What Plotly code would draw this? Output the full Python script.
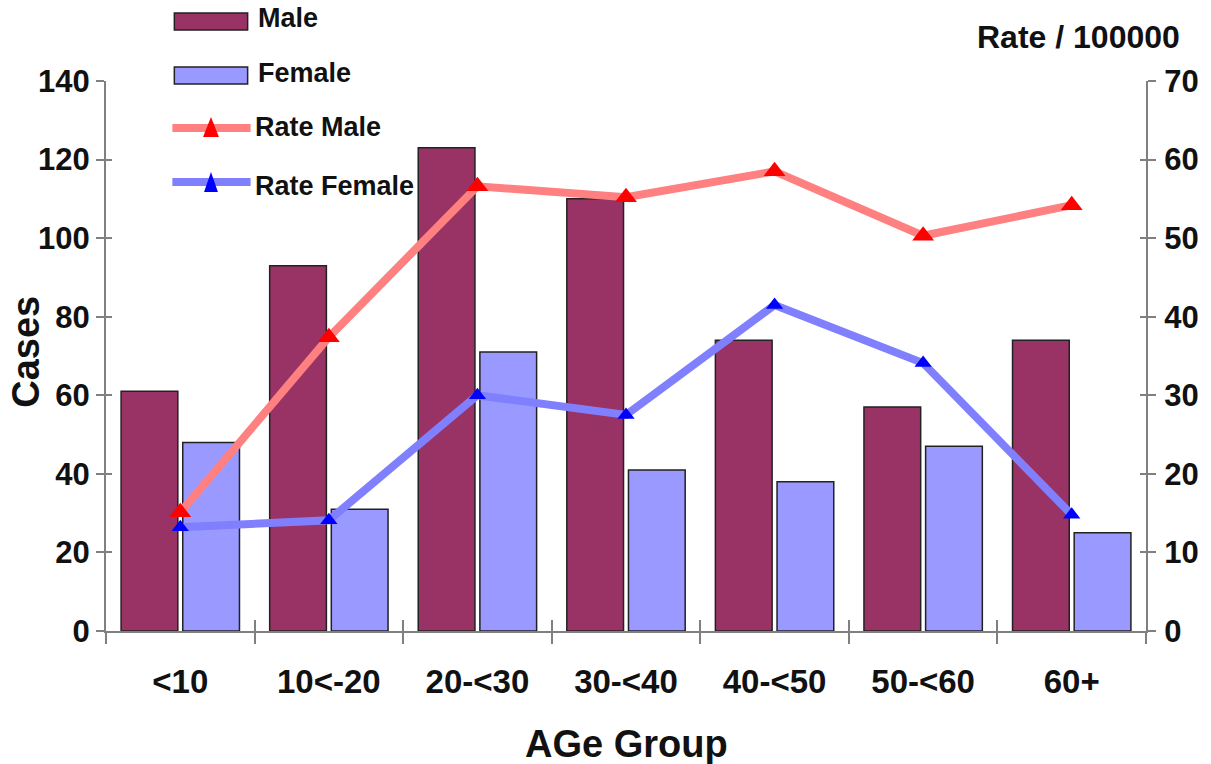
import plotly.graph_objects as go

# Age groups and counts
age_groups = ["<10", "10<-20", "20-<30", "30-<40", "40-<50", "50-<60", "60+"]
male_cases = [61, 93, 123, 110, 74, 57, 74]
female_cases = [48, 31, 71, 41, 38, 47, 25]

# Incidence per 100000
rate_male = [15.1, 37.4, 56.6, 55.2, 58.5, 50.3, 54.2]
rate_female = [13.2, 14.1, 30.0, 27.5, 41.5, 34.1, 14.8]

left_ticks = [0, 20, 40, 60, 80, 100, 120, 140]
right_ticks = [0, 10, 20, 30, 40, 50, 60, 70]

MALE_FILL = "#993366"
FEMALE_FILL = "#9999FF"
RM_LINE, RM_MARK = "#FF8080", "#FF0000"
RF_LINE, RF_MARK = "#8080FF", "#0000FF"
AXIS_GREY = "#808080"
TXT = "#111111"
FONT = "Liberation Sans, Arial, sans-serif"

W, H = 1211, 764
L, R, T, B = 106, 1156, 81, 631


def px(x):
    return (x - L) / (R - L)


def py(y):
    return (B - y) / (B - T)


fig = go.Figure()

fig.add_trace(go.Bar(x=age_groups, y=male_cases, name="Male",
                     marker=dict(color=MALE_FILL, line=dict(color="#222222", width=1.5)),
                     showlegend=False))
fig.add_trace(go.Bar(x=age_groups, y=female_cases, name="Female",
                     marker=dict(color=FEMALE_FILL, line=dict(color="#222222", width=1.5)),
                     showlegend=False))

fig.add_trace(go.Scatter(x=age_groups, y=rate_male, name="Rate Male", yaxis="y2",
                         mode="lines+markers",
                         line=dict(color=RM_LINE, width=8),
                         marker=dict(symbol="triangle-up", size=19, color=RM_MARK,
                                     line=dict(width=0)),
                         showlegend=False))
fig.add_trace(go.Scatter(x=age_groups, y=rate_female, name="Rate Female", yaxis="y2",
                         mode="lines+markers",
                         line=dict(color=RF_LINE, width=8),
                         marker=dict(symbol="triangle-up", size=15, color=RF_MARK,
                                     line=dict(width=0)),
                         showlegend=False))

# helper traces so the inner half of the crossing ticks gets drawn
fig.add_trace(go.Scatter(x=age_groups, y=male_cases, xaxis="x2", yaxis="y3", mode="markers",
                         marker=dict(opacity=0), hoverinfo="skip", showlegend=False))
fig.add_trace(go.Scatter(x=age_groups, y=rate_male, xaxis="x2", yaxis="y4", mode="markers",
                         marker=dict(opacity=0), hoverinfo="skip", showlegend=False))

tick_font = dict(family=FONT, size=31, color=TXT, weight="bold")
cat_font = dict(family=FONT, size=33, color=TXT, weight="bold")

fig.update_layout(
    width=W, height=H,
    margin=dict(l=L, r=W - R, t=T, b=H - B, pad=0),
    paper_bgcolor="white", plot_bgcolor="white",
    barmode="group", bargap=0.17, bargroupgap=0.08,
    showlegend=False,
    xaxis=dict(type="category", categoryorder="array", categoryarray=age_groups,
               range=[-0.5, 6.5], tickson="boundaries", ticks="outside", ticklen=11,
               tickwidth=1.5, tickcolor=AXIS_GREY, showline=True, linecolor=AXIS_GREY,
               linewidth=2, showgrid=False, zeroline=False, tickfont=cat_font,
               ticklabelstandoff=20),
    xaxis2=dict(type="category", categoryorder="array", categoryarray=age_groups,
                overlaying="x", anchor="y3", range=[-0.5, 6.5], tickson="boundaries",
                ticks="inside", ticklen=11, tickwidth=1.5, tickcolor=AXIS_GREY,
                showticklabels=False, showline=False, showgrid=False, zeroline=False),
    yaxis=dict(range=[0, 140], tickvals=left_ticks, ticks="outside", ticklen=8,
               tickwidth=1.5, tickcolor=AXIS_GREY, showline=True, linecolor=AXIS_GREY,
               linewidth=2, showgrid=False, zeroline=False, tickfont=tick_font,
               ticklabelstandoff=0),
    yaxis2=dict(range=[0, 70], tickvals=right_ticks, overlaying="y", side="right",
                ticks="outside", ticklen=8, tickwidth=1.5, tickcolor=AXIS_GREY,
                showline=True, linecolor=AXIS_GREY, linewidth=2, showgrid=False,
                zeroline=False, tickfont=tick_font, ticklabelstandoff=2),
    yaxis3=dict(range=[0, 140], tickvals=left_ticks, overlaying="y", anchor="x2", side="left",
                ticks="inside", ticklen=6, tickwidth=1.5, tickcolor=AXIS_GREY,
                showticklabels=False, showline=False, showgrid=False, zeroline=False),
    yaxis4=dict(range=[0, 70], tickvals=right_ticks, overlaying="y", anchor="x2", side="right",
                ticks="inside", ticklen=6, tickwidth=1.5, tickcolor=AXIS_GREY,
                showticklabels=False, showline=False, showgrid=False, zeroline=False),
)

shapes = []
# axis lines continue a little below the baseline
for xp in (L, R):
    shapes.append(dict(type="line", xref="paper", yref="paper", x0=px(xp), x1=px(xp),
                       y0=py(B), y1=py(B + 11), line=dict(color=AXIS_GREY, width=2)))


def tri(cx, tip, base, half_w):
    return (f"M {px(cx - half_w)},{py(base)} L {px(cx + half_w)},{py(base)} "
            f"L {px(cx)},{py(tip)} Z")


# legend block
shapes.append(dict(type="rect", xref="paper", yref="paper", x0=px(175), x1=px(249),
                   y0=py(30), y1=py(13), fillcolor=MALE_FILL,
                   line=dict(color="#222222", width=1.5)))
shapes.append(dict(type="rect", xref="paper", yref="paper", x0=px(175), x1=px(249),
                   y0=py(84), y1=py(67), fillcolor=FEMALE_FILL,
                   line=dict(color="#222222", width=1.5)))
shapes.append(dict(type="line", xref="paper", yref="paper", x0=px(173), x1=px(252),
                   y0=py(128), y1=py(128), line=dict(color=RM_LINE, width=8)))
shapes.append(dict(type="path", xref="paper", yref="paper", path=tri(212, 117, 137, 8),
                   fillcolor=RM_MARK, line=dict(width=0)))
shapes.append(dict(type="line", xref="paper", yref="paper", x0=px(173), x1=px(252),
                   y0=py(182), y1=py(182), line=dict(color=RF_LINE, width=8)))
shapes.append(dict(type="path", xref="paper", yref="paper", path=tri(212, 172, 192, 7),
                   fillcolor=RF_MARK, line=dict(width=0)))
fig.update_layout(shapes=shapes)

legend_font = dict(family=FONT, size=27, color=TXT, weight="bold")
annotations = [
    dict(text="Male", x=px(257), y=py(18), xanchor="left", yanchor="middle"),
    dict(text="Female", x=px(257), y=py(73), xanchor="left", yanchor="middle"),
    dict(text="Rate Male", x=px(254), y=py(127), xanchor="left", yanchor="middle"),
    dict(text="Rate Female", x=px(254), y=py(186), xanchor="left", yanchor="middle"),
]
for a in annotations:
    a.update(xref="paper", yref="paper", showarrow=False, font=legend_font)

annotations += [
    dict(text="Rate / 100000", x=px(1088), y=py(37), xanchor="center", yanchor="middle",
         xref="paper", yref="paper", showarrow=False,
         font=dict(family=FONT, size=32, color=TXT, weight="bold")),
    dict(text="Cases", x=px(25), y=py(352), xanchor="center", yanchor="middle",
         textangle=-90, xref="paper", yref="paper", showarrow=False,
         font=dict(family=FONT, size=38, color=TXT, weight="bold")),
    dict(text="AGe Group", x=px(631), y=py(744), xanchor="center", yanchor="middle",
         xref="paper", yref="paper", showarrow=False,
         font=dict(family=FONT, size=38, color=TXT, weight="bold")),
]
fig.update_layout(annotations=annotations)

fig.write_html("out.html")
